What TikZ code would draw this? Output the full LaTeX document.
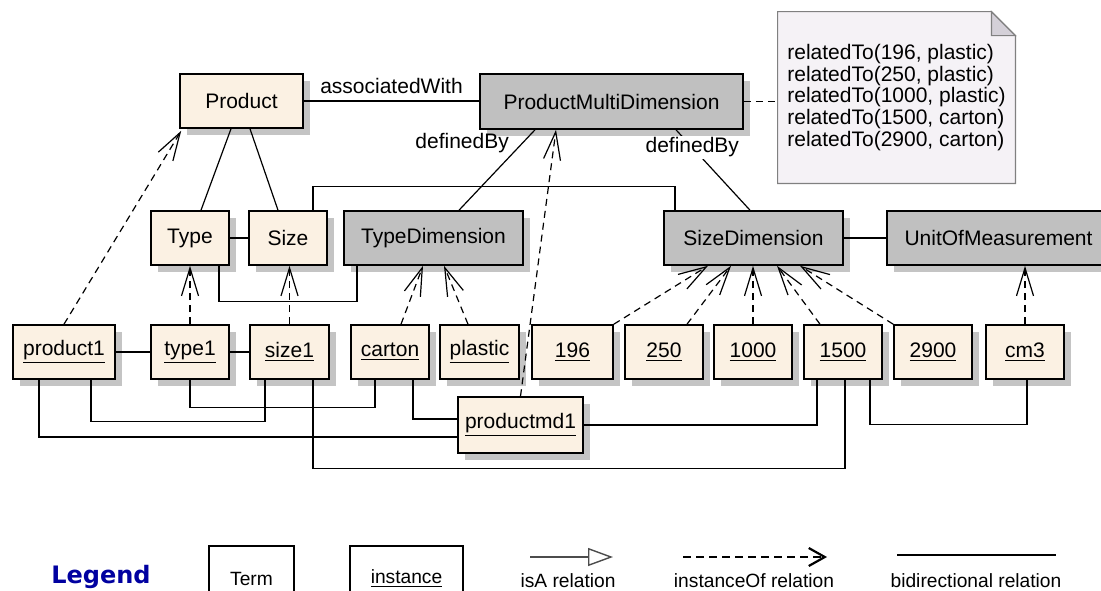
\documentclass[tikz,border=0pt]{standalone}
\usepackage{fontspec}
\setmainfont{Liberation Sans}
\newfontfamily\legendfont{DejaVu Sans}
\usetikzlibrary{arrows.meta,shadows,backgrounds}

\definecolor{termfill}{RGB}{251,241,227}
\definecolor{dimfill}{RGB}{192,192,192}
\definecolor{shadowgray}{RGB}{196,196,196}
\definecolor{notefill}{RGB}{245,242,246}
\definecolor{foldfill}{RGB}{212,208,216}
\definecolor{legendblue}{RGB}{0,0,160}

\tikzset{
  termbox/.style={draw, line width=0.8pt, fill=termfill, minimum height=27pt, inner sep=2pt,
    drop shadow={shadow xshift=3.5pt, shadow yshift=-3.5pt, fill=shadowgray, opacity=1}},
  dimbox/.style={termbox, fill=dimfill},
  bidir/.style={line width=0.6pt},
  instof/.style={line width=0.6pt, dash pattern=on 3.5pt off 2.5pt, -{Straight Barb[length=14pt,width=8.5pt]}},
  keybox/.style={draw, line width=0.8pt, minimum height=33pt, font=\fontsize{9.6pt}{11pt}\selectfont},
  keytext/.style={font=\fontsize{9.6pt}{11pt}\selectfont},
}

\begin{document}
\begin{tikzpicture}[x=0.5pt, y=-0.5pt, font=\fontsize{10.5pt}{10.9pt}\selectfont]
	\useasboundingbox (0,0) rectangle (1101,590);
	% terms
	\node[termbox, minimum width=61.5pt] (product) at (241.5,101) {Product};
	\node[dimbox, minimum width=131.5pt, minimum height=27.5pt] (pmd) at (611.5,101.5) {ProductMultiDimension};
	\node[termbox, minimum width=39pt] (type) at (190,238) {Type};
	\node[termbox, minimum width=39pt] (size) at (288,238) {Size};
	\node[dimbox, minimum width=89.5pt] (typedim) at (433.5,238) {TypeDimension};
	\node[dimbox, minimum width=89.5pt] (sizedim) at (753.5,238) {SizeDimension};
	\node[dimbox, minimum width=111.5pt] (uom) at (998.5,238) {UnitOfMeasurement};
	\node[minimum width=118.5pt, minimum height=85.5pt, align=left, inner sep=0pt] (note) at (896.5,97.5)
		{relatedTo(196, plastic)\\relatedTo(250, plastic)\\relatedTo(1000, plastic)\\relatedTo(1500, carton)\\relatedTo(2900, carton)};
	\begin{scope}[on background layer]
		\filldraw[fill=notefill, draw=black!50, line width=0.6pt] (note.south west) -- (note.south east)
			-- ([yshift=-12pt]note.north east) -- ([xshift=-12pt]note.north east) -- (note.north west) -- cycle;
		\filldraw[fill=foldfill, draw=black!50, line width=0.6pt] ([xshift=-12pt]note.north east)
			|- ([yshift=-12pt]note.north east) -- cycle;
	\end{scope}
	% instances
	\node[termbox, minimum width=51pt] (product1) at (64,352) {\underline{product1}};
	\node[termbox, minimum width=39pt] (type1) at (190,352) {\underline{type1}};
	\node[termbox, minimum width=39.5pt] (size1) at (289.5,352) {\underline{size1}};
	\node[termbox, minimum width=39pt] (carton) at (390,352) {\underline{carton}};
	\node[termbox, minimum width=39.5pt] (plastic) at (479.5,352) {\underline{plastic}};
	\node[termbox, minimum width=40.5pt] (v196) at (572.5,352) {\underline{196}};
	\node[termbox, minimum width=39pt] (v250) at (664,352) {\underline{250}};
	\node[termbox, minimum width=39pt] (v1000) at (753,352) {\underline{1000}};
	\node[termbox, minimum width=39pt] (v1500) at (843,352) {\underline{1500}};
	\node[termbox, minimum width=39pt] (v2900) at (933,352) {\underline{2900}};
	\node[termbox, minimum width=39pt] (cm3) at (1025,352) {\underline{cm3}};
	\node[termbox, minimum width=62.5pt, minimum height=28pt] (productmd1) at (520.5,425) {\underline{productmd1}};
	% relations between terms
	\draw[bidir] (product.east) -- node[above]{associatedWith} (pmd.west |- product.east);
	\draw[bidir] ([xshift=-5.25pt]product.south) -- ([xshift=5.5pt]type.north);
	\draw[bidir] ([xshift=4.25pt]product.south) -- ([xshift=-5pt]size.north);
	\draw[bidir] (type.east) -- (size.west);
	\draw[bidir] ([xshift=12.5pt]size.north) -- ++(0,12pt) -| ([xshift=-39.25pt]sizedim.north);
	\draw[bidir] ([xshift=14.5pt]type.south) -- ++(0,-18pt) -| ([xshift=-38.25pt]typedim.south);
	\draw[bidir] ([xshift=-38.25pt]pmd.south) -- node[pos=.17, left=3pt]{definedBy} ([xshift=12.75pt]typedim.north);
	\draw[bidir] ([xshift=32.25pt]pmd.south) -- node[pos=.22, fill=white, inner sep=1pt]{definedBy} ([xshift=-1.75pt]sizedim.north);
	\draw[bidir] (sizedim.east) -- (uom.west);
	\draw[line width=0.6pt, dash pattern=on 3.5pt off 2.5pt] (pmd.east) -- (note.west |- pmd.east);
	% relations between instances
	\draw[bidir] (product1.east) -- (type1.west);
	\draw[bidir] (type1.east) -- (size1.west);
	\draw[bidir] ([xshift=13.5pt]product1.south) -- ++(0,-21pt) -| ([xshift=-12.25pt]size1.south);
	\draw[bidir] ([xshift=-12.5pt]product1.south) |- ([yshift=-6pt]productmd1.west);
	\draw[bidir] (type1.south) -- ++(0,-14pt) -| ([xshift=-7.5pt]carton.south);
	\draw[bidir] ([xshift=11.75pt]size1.south) -- ++(0,-44.5pt) -| ([xshift=1pt]v1500.south);
	\draw[bidir] ([xshift=11.5pt]carton.south) |- ([yshift=3pt]productmd1.west);
	\draw[bidir] (productmd1.east) -| ([xshift=-13pt]v1500.south);
	\draw[bidir] ([xshift=13.5pt]v1500.south) -- ++(0,-22.5pt) -| ([xshift=1pt]cm3.south);
	% instanceOf
	\draw[instof] (product1.north) -- ([xshift=1pt,yshift=-1pt]product.south west);
	\draw[instof] (type1.north) -- (type1.north |- type.south);
	\draw[instof] (size1.north) -- (size1.north |- size.south);
	\draw[instof] ([xshift=5.5pt]carton.north) -- ([xshift=-5.25pt]typedim.south);
	\draw[instof] ([xshift=-5.75pt]plastic.north) -- ([xshift=5.25pt]typedim.south);
	\draw[instof] (productmd1.north) -- ([xshift=-27.75pt]pmd.south);
	\draw[instof] (v196.north east) -- ([xshift=-22.75pt]sizedim.south);
	\draw[instof] ([xshift=11.5pt]v250.north) -- ([xshift=-11.25pt]sizedim.south);
	\draw[instof] (v1000.north) -- (v1000.north |- sizedim.south);
	\draw[instof] ([xshift=-11.5pt]v1500.north) -- ([xshift=11.75pt]sizedim.south);
	\draw[instof] (v2900.north west) -- ([xshift=23.25pt]sizedim.south);
	\draw[instof] (cm3.north) -- (cm3.north |- uom.south);
	% legend
	\node[font=\legendfont\bfseries\fontsize{12pt}{14pt}\selectfont, text=legendblue] (legend) at (101,577) {Legend};
	\node[keybox, minimum width=42.5pt] (termkey) at (251.5,579) {Term};
	\node[keybox, minimum width=56.5pt] (instkey) at (406.5,579) {\underline{instance}};
	\coordinate (isa a) at (530,557);
	\coordinate (isa b) at (613,557);
	\draw[line width=0.7pt, black!70, -{Triangle[open, length=12.5pt, width=9pt]}] (isa a) -- (isa b);
	\node[keytext] (isa label) at (568,581) {isA relation};
	\coordinate (instof a) at (683,557);
	\coordinate (instof b) at (827,557);
	\draw[line width=1.1pt, dash pattern=on 4pt off 2.5pt, -{Straight Barb[length=8pt,width=9pt]}] (instof a) -- (instof b);
	\node[keytext] (instof label) at (754,581) {instanceOf relation};
	\coordinate (bidir a) at (897,555);
	\coordinate (bidir b) at (1056,555);
	\draw[line width=1.1pt] (bidir a) -- (bidir b);
	\node[keytext] (bidir label) at (976,581) {bidirectional relation};
\end{tikzpicture}
\end{document}
